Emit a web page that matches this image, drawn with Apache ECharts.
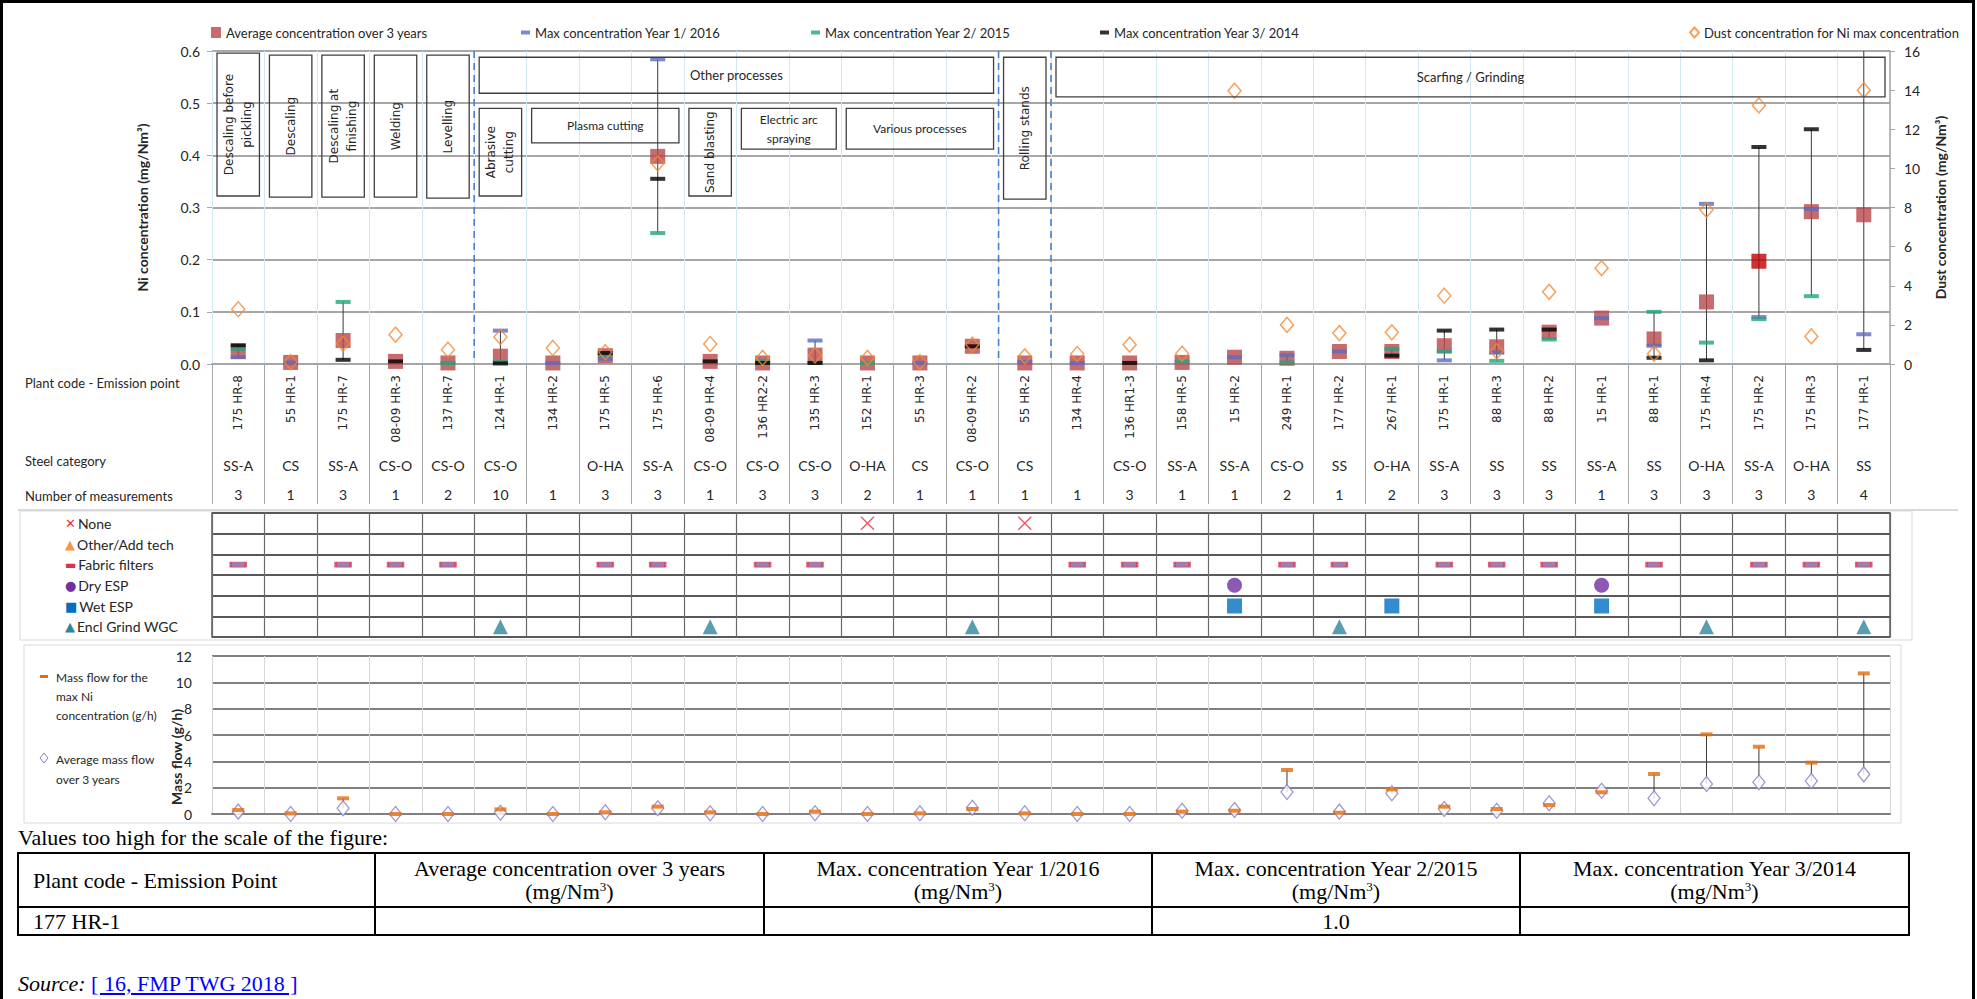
<!DOCTYPE html>
<html>
<head>
<meta charset="utf-8">
<script src="https://cdn.jsdelivr.net/npm/echarts/dist/echarts.min.js"></script>
<style>
  html, body { margin: 0; padding: 0; background: #fff; overflow: hidden; }
  #frame { position: absolute; left: 0; top: 0; width: 1969px; height: 1100px; border: 3px solid #000; border-bottom: none; pointer-events: none; z-index: 5; }
  #chart { position: absolute; left: 0; top: 0; width: 1977px; height: 830px; }
  .serif { font-family: 'Liberation Serif', 'Times New Roman', serif; font-size: 22px; color: #000; }
  #note { position: absolute; left: 18px; top: 825px; line-height: 26px; z-index: 3; }
  #tooHigh { position: absolute; left: 17px; top: 852px; border-collapse: collapse; z-index: 3; }
  #tooHigh td { border: 2px solid #000; padding: 0; line-height: 23px; text-align: center; vertical-align: middle; }
  #tooHigh td.first { text-align: left; padding-left: 14px; }
  #tooHigh tr.head td { height: 52px; }
  #tooHigh tr.body td { height: 26px; }
  #tooHigh sup { font-size: 13px; line-height: 0; }
  #source { position: absolute; left: 18px; top: 971px; line-height: 26px; z-index: 3; }
  #source a { color: #0000ff; text-decoration: underline; }
</style>
</head>
<body>
<div id="chart"></div>
<div id="note" class="serif">Values too high for the scale of the figure:</div>
<table id="tooHigh" class="serif">
  <colgroup><col style="width:357px"><col style="width:389px"><col style="width:388px"><col style="width:368px"><col style="width:389px"></colgroup>
  <tr class="head">
    <td class="first">Plant code - Emission Point</td>
    <td>Average concentration over 3 years<br>(mg/Nm<sup>3</sup>)</td>
    <td>Max. concentration Year 1/2016<br>(mg/Nm<sup>3</sup>)</td>
    <td>Max. concentration Year 2/2015<br>(mg/Nm<sup>3</sup>)</td>
    <td>Max. concentration Year 3/2014<br>(mg/Nm<sup>3</sup>)</td>
  </tr>
  <tr class="body">
    <td class="first">177 HR-1</td><td></td><td></td><td>1.0</td><td></td>
  </tr>
</table>
<div id="source" class="serif"><i>Source:</i> <a>[ 16, FMP TWG 2018 ]</a></div>
<div id="frame"></div>
<script>
// categories (plant code - emission point)
const plantCodes = ['175 HR-8', '55 HR-1', '175 HR-7', '08-09 HR-3', '137 HR-7', '124 HR-1', '134 HR-2', '175 HR-5',
  '175 HR-6', '08-09 HR-4', '136 HR2-2', '135 HR-3', '152 HR-1', '55 HR-3', '08-09 HR-2', '55 HR-2', '134 HR-4',
  '136 HR1-3', '158 HR-5', '15 HR-2', '249 HR-1', '177 HR-2', '267 HR-1', '175 HR-1', '88 HR-3', '88 HR-2',
  '15 HR-1', '88 HR-1', '175 HR-4', '175 HR-2', '175 HR-3', '177 HR-1']
const steelCategories = ['SS-A', 'CS', 'SS-A', 'CS-O', 'CS-O', 'CS-O', '', 'O-HA', 'SS-A', 'CS-O', 'CS-O', 'CS-O',
  'O-HA', 'CS', 'CS-O', 'CS', '', 'CS-O', 'SS-A', 'SS-A', 'CS-O', 'SS', 'O-HA', 'SS-A', 'SS', 'SS', 'SS-A', 'SS',
  'O-HA', 'SS-A', 'O-HA', 'SS']
const measurementCounts = ['3', '1', '3', '1', '2', '10', '1', '3', '3', '1', '3', '3', '2', '1', '1', '1', '1',
  '3', '1', '1', '2', '1', '2', '3', '3', '3', '1', '3', '3', '3', '3', '4']

// Ni concentration (mg/Nm3)
const avgConc = [0.024, 0.003, 0.045, 0.005, 0.002, 0.015, 0.002, 0.016, 0.398, 0.005, 0.002, 0.017, 0.002, 0.002,
  0.034, 0.002, 0.002, 0.002, 0.003, 0.013, 0.011, 0.024, 0.024, 0.035, 0.033, 0.061, 0.088, 0.048, 0.119, 0.197,
  0.292, 0.286]
const maxYear1 = [0.013, 0.003, null, null, null, 0.064, 0.002, 0.010, 0.584, null, null, 0.045, null, 0.002, null,
  0.004, 0.002, null, null, 0.013, 0.017, 0.024, null, 0.007, 0.022, null, 0.088, 0.035, 0.307, 0.090, 0.297, 0.057]
const maxYear2 = [0.029, null, 0.119, null, 0.002, 0.004, null, 0.018, 0.251, null, 0.006, 0.002, 0.002, null, null,
  null, null, null, 0.004, null, 0.003, null, 0.029, 0.024, 0.006, 0.047, null, 0.100, 0.041, 0.086, 0.130, 1.0]
const maxYear3 = [0.036, null, 0.008, 0.005, null, 0.001, null, 0.021, 0.355, 0.005, 0.002, 0.002, null, null, 0.034,
  null, null, 0.002, null, null, null, null, 0.016, 0.064, 0.066, 0.066, null, 0.012, 0.007, 0.416, 0.450, 0.027]
// dust concentration (mg/Nm3), right axis
const dustConc = [2.8, 0.1, 1.04, 1.5, 0.73, 1.38, 0.82, 0.6, 10.26, 1.02, 0.31, 0.44, 0.31, 0.1, 0.99, 0.39, 0.51,
  0.99, 0.53, 13.97, 2.0, 1.58, 1.62, 3.49, 0.65, 3.69, 4.9, 0.53, 7.88, 13.22, 1.41, 14.0]

// techniques (1 = used)
const techRows = ['None', 'Other/Add tech', 'Fabric filters', 'Dry ESP', 'Wet ESP', 'Encl Grind WGC']
const techNone = [0,0,0,0,0,0,0,0,0,0, 0,0,1,0,0,1,0,0,0,0, 0,0,0,0,0,0,0,0,0,0, 0,0]
const techOther = [0,0,0,0,0,0,0,0,0,0, 0,0,0,0,0,0,0,0,0,0, 0,0,0,0,0,0,0,0,0,0, 0,0]
const techFabric = [1,0,1,1,1,0,0,1,1,0, 1,1,0,0,0,0,1,1,1,0, 1,1,0,1,1,1,0,1,0,1, 1,1]
const techDryEsp = [0,0,0,0,0,0,0,0,0,0, 0,0,0,0,0,0,0,0,0,1, 0,0,0,0,0,0,1,0,0,0, 0,0]
const techWetEsp = [0,0,0,0,0,0,0,0,0,0, 0,0,0,0,0,0,0,0,0,1, 0,0,1,0,0,0,1,0,0,0, 0,0]
const techEnclGrind = [0,0,0,0,0,1,0,0,0,1, 0,0,0,0,1,0,0,0,0,0, 0,1,0,0,0,0,0,0,1,0, 0,1]

// mass flow (g/h)
const massFlowMax = [0.3, 0.05, 1.19, 0, 0, 0.35, 0, 0.13, 0.56, 0.13, 0, 0.18, 0, 0.05, 0.38, 0.05, 0, 0, 0.18, 0.25,
  3.34, 0.1, 1.87, 0.56, 0.38, 0.68, 1.65, 3.04, 6.05, 5.11, 3.9, 10.68]
const massFlowAvg = [0.18, 0, 0.43, 0, 0, 0.1, 0, 0.13, 0.43, 0.05, 0, 0.05, 0, 0.05, 0.48, 0.05, 0, 0, 0.25, 0.3,
  1.67, 0.18, 1.57, 0.38, 0.25, 0.81, 1.77, 1.19, 2.28, 2.41, 2.5, 3.01]

// process annotation boxes (category range + extent on the Ni axis)
const processBoxes = [
  { label: 'Descaling before\npickling', from: 0, to: 0, top: 0.596, bottom: 0.322, vertical: true },
  { label: 'Descaling', from: 1, to: 1, top: 0.592, bottom: 0.320, vertical: true },
  { label: 'Descaling at\nfinishing', from: 2, to: 2, top: 0.592, bottom: 0.320, vertical: true },
  { label: 'Welding', from: 3, to: 3, top: 0.592, bottom: 0.320, vertical: true },
  { label: 'Levelling', from: 4, to: 4, top: 0.592, bottom: 0.318, vertical: true },
  { label: 'Other processes', from: 5, to: 14, top: 0.588, bottom: 0.519, size: 13 },
  { label: 'Abrasive\ncutting', from: 5, to: 5, top: 0.49, bottom: 0.322, vertical: true },
  { label: 'Plasma cutting', from: 6, to: 8, top: 0.49, bottom: 0.424, size: 12 },
  { label: 'Sand blasting', from: 9, to: 9, top: 0.49, bottom: 0.322, vertical: true },
  { label: 'Electric arc\nspraying', from: 10, to: 11, top: 0.49, bottom: 0.412, size: 12 },
  { label: 'Various processes', from: 12, to: 14, top: 0.49, bottom: 0.412, size: 12 },
  { label: 'Rolling stands', from: 15, to: 15, top: 0.588, bottom: 0.316, vertical: true },
  { label: 'Scarfing / Grinding', from: 16, to: 31, top: 0.588, bottom: 0.512, size: 13 }
]
// group separators: after this many categories
const separatorsAfter = [5, 15, 16]

const names = {
  avg: 'Average concentration over 3 years',
  y1: 'Max concentration Year 1/ 2016',
  y2: 'Max concentration Year 2/ 2015',
  y3: 'Max concentration Year 3/ 2014',
  dust: 'Dust concentration for Ni max concentration'
}

const pts = (arr) => arr.map((v, i) => (v == null ? null : [i, v])).filter(Boolean)

const errData = plantCodes.map((_, i) => {
  const vals = [maxYear1[i], maxYear2[i], maxYear3[i]].filter(v => v != null)
  if (vals.length < 2) return null
  return [i, Math.min(...vals), Math.max(...vals)]
}).filter(Boolean)

const massErr = plantCodes.map((_, i) => [i, massFlowAvg[i], massFlowMax[i]])

const chart = echarts.init(document.getElementById('chart'), null, { renderer: 'svg' })

const txt = '#262626'
const legendBase = { top: 21, icon: 'rect', textStyle: { fontFamily: 'Lato', fontSize: 13, color: txt } }

const techSymbols = [
  { symbol: 'path://M0,0L10,10M10,0L0,10', size: 13, style: { color: 'none', borderColor: '#E8303A', borderWidth: 1.4 } },
  { symbol: 'triangle', size: 14, style: { color: '#F79646' } },
  { symbol: 'rect', size: [15, 5], style: { color: '#7D62A8', borderColor: '#E2384F', borderWidth: 1.5 } },
  { symbol: 'circle', size: 15, style: { color: '#7030A0' } },
  { symbol: 'rect', size: 15, style: { color: '#0070C0' } },
  { symbol: 'triangle', size: 15, style: { color: '#31849B' } }
]
const techFlags = [techNone, techOther, techFabric, techDryEsp, techWetEsp, techEnclGrind]
const techGlyph = ['✕', '▲', '▬', '●', '■', '▲']
const techGlyphColor = ['#E8303A', '#F79646', '#D9344B', '#7030A0', '#0070C0', '#31849B']
const techRich = { t: { fontFamily: 'Lato', fontSize: 14, color: txt, padding: [0, 0, 0, 2] } }
techGlyphColor.forEach((c, r) => {
  techRich['i' + r] = { fontFamily: 'DejaVu Sans', fontSize: r === 2 ? 12 : 13, color: c }
})

const series = [
  {
    type: 'custom', name: 'errbars', xAxisIndex: 0, yAxisIndex: 0, silent: true, z: 1,
    data: errData,
    renderItem (params, api) {
      const p1 = api.coord([api.value(0), api.value(1)])
      const p2 = api.coord([api.value(0), api.value(2)])
      const top = params.coordSys.y
      return { type: 'line', shape: { x1: p1[0], y1: p1[1], x2: p2[0], y2: Math.max(p2[1], top) }, style: { stroke: '#3a3a3a', lineWidth: 1 } }
    }
  },
  {
    type: 'scatter', name: names.avg, xAxisIndex: 0, yAxisIndex: 0, z: 2,
    symbol: 'rect', symbolSize: 15, itemStyle: { color: '#B8474A' },
    data: avgConc.map((v, i) => (i === 29 ? { value: [i, v], itemStyle: { color: '#C00000' } } : [i, v]))
  },
  { type: 'scatter', name: names.y1, xAxisIndex: 0, yAxisIndex: 0, z: 3, symbol: 'rect', symbolSize: [15, 4], itemStyle: { color: '#5C6BC0' }, data: pts(maxYear1) },
  { type: 'scatter', name: names.y2, xAxisIndex: 0, yAxisIndex: 0, z: 3, symbol: 'rect', symbolSize: [15, 4], itemStyle: { color: '#1FA67E' }, data: pts(maxYear2) },
  { type: 'scatter', name: names.y3, xAxisIndex: 0, yAxisIndex: 0, z: 3, symbol: 'rect', symbolSize: [15, 4], itemStyle: { color: '#000' }, data: pts(maxYear3) },
  {
    type: 'scatter', name: names.dust, xAxisIndex: 0, yAxisIndex: 1, z: 4,
    symbol: 'diamond', symbolSize: [13, 15],
    itemStyle: { color: 'rgba(255,255,255,0)', borderColor: '#F28A35', borderWidth: 1.5 },
    data: pts(dustConc)
  },
  {
    type: 'custom', name: 'boxes', xAxisIndex: 0, yAxisIndex: 0, silent: true, z: 5,
    data: processBoxes.map((b, k) => [b.from, b.top, k]),
    renderItem (params, api) {
      const b = processBoxes[api.value(2)]
      const band = api.size([1, 0])[0]
      const x0 = api.coord([b.from, 0])[0] - band / 2 + 5
      const x1 = api.coord([b.to, 0])[0] + band / 2 - 5
      const y0 = api.coord([b.from, b.top])[1]
      const y1 = api.coord([b.from, b.bottom])[1]
      const font = b.vertical ? '12px "DejaVu Sans"' : (b.size || 13) + 'px Lato'
      return {
        type: 'group',
        children: [
          { type: 'rect', shape: { x: x0, y: y0, width: x1 - x0, height: y1 - y0 }, style: { fill: 'none', stroke: '#3f3f3f', lineWidth: 1.3 } },
          {
            type: 'text', x: (x0 + x1) / 2, y: (y0 + y1) / 2, rotation: b.vertical ? Math.PI / 2 : 0,
            style: { text: b.label, font: font, fill: txt, align: 'center', verticalAlign: 'middle', lineHeight: b.vertical ? 18 : 19 }
          }
        ]
      }
    }
  },
  {
    type: 'custom', name: 'separators', xAxisIndex: 0, yAxisIndex: 0, silent: true, z: 1,
    data: separatorsAfter.map(n => [n - 1, 0]),
    renderItem (params, api) {
      const x = api.coord([api.value(0), 0])[0] + api.size([1, 0])[0] / 2
      const cs = params.coordSys
      return { type: 'line', shape: { x1: x, y1: cs.y, x2: x, y2: cs.y + cs.height }, style: { stroke: '#4A7EC7', lineWidth: 1.6, lineDash: [7, 5] } }
    }
  }
]

techFlags.forEach((flags, r) => {
  const s = techSymbols[r]
  series.push({
    type: 'scatter', name: techRows[r], xAxisIndex: 3, yAxisIndex: 2, z: 3,
    symbol: s.symbol, symbolSize: s.size, itemStyle: s.style,
    data: flags.map((f, i) => (f ? [i, r] : null)).filter(Boolean)
  })
})

series.push(
  {
    type: 'custom', name: 'massErr', xAxisIndex: 4, yAxisIndex: 3, silent: true, z: 1,
    data: massErr,
    renderItem (params, api) {
      const p1 = api.coord([api.value(0), api.value(1)])
      const p2 = api.coord([api.value(0), api.value(2)])
      return { type: 'line', shape: { x1: p1[0], y1: p1[1], x2: p2[0], y2: p2[1] }, style: { stroke: '#3a3a3a', lineWidth: 1 } }
    }
  },
  {
    type: 'scatter', name: 'Average mass flow over 3 years', xAxisIndex: 4, yAxisIndex: 3, z: 2,
    symbol: 'diamond', symbolSize: [12, 15],
    itemStyle: { color: '#fff', borderColor: '#8B7CC8', borderWidth: 1.3 },
    data: pts(massFlowAvg)
  },
  {
    type: 'scatter', name: 'Mass flow for the max Ni concentration (g/h)', xAxisIndex: 4, yAxisIndex: 3, z: 3,
    symbol: 'rect', symbolSize: [12, 4], itemStyle: { color: '#E46C0A' },
    data: pts(massFlowMax)
  }
)

const gridLine = '#A6A6A6'
const option = {
  animation: false,
  backgroundColor: '#fff',
  textStyle: { fontFamily: 'Lato' },
  legend: [
    Object.assign({}, legendBase, { left: 206, data: [names.avg], itemWidth: 10, itemHeight: 11 }),
    Object.assign({}, legendBase, { left: 516, data: [names.y1], itemWidth: 9, itemHeight: 4 }),
    Object.assign({}, legendBase, { left: 806, data: [names.y2], itemWidth: 9, itemHeight: 4 }),
    Object.assign({}, legendBase, { left: 1095, data: [names.y3], itemWidth: 9, itemHeight: 4 }),
    Object.assign({}, legendBase, { left: 1684, data: [names.dust], icon: 'diamond', itemWidth: 9, itemHeight: 10 })
  ],
  grid: [
    { left: 212, right: 87, top: 51, height: 313, outerBoundsMode: 'none' },
    { left: 212, right: 87, top: 513, height: 124, show: true, borderColor: '#595959', borderWidth: 1.5, outerBoundsMode: 'none' },
    { left: 212, right: 87, top: 656, height: 158, outerBoundsMode: 'none' }
  ],
  xAxis: [
    {
      type: 'category', gridIndex: 0, data: plantCodes,
      axisLine: { lineStyle: { color: gridLine, width: 2 } },
      axisTick: { show: true, interval: 0, length: 140, lineStyle: { color: gridLine, width: 1 } },
      axisLabel: { interval: 0, rotate: 90, margin: 11, fontFamily: 'DejaVu Sans', fontSize: 12, color: txt },
      splitLine: { show: true, interval: 0, lineStyle: { color: '#D2E7F4', width: 1 } }
    },
    {
      type: 'category', gridIndex: 0, position: 'bottom', offset: 86, data: steelCategories,
      axisLine: { show: false }, axisTick: { show: false }, splitLine: { show: false },
      axisLabel: { interval: 0, margin: 8, fontSize: 14, color: txt }
    },
    {
      type: 'category', gridIndex: 0, position: 'bottom', offset: 115, data: measurementCounts,
      axisLine: { show: false }, axisTick: { show: false }, splitLine: { show: false },
      axisLabel: { interval: 0, margin: 8, fontSize: 14, color: txt }
    },
    {
      type: 'category', gridIndex: 1, data: plantCodes,
      axisLine: { show: false }, axisTick: { show: false }, axisLabel: { show: false },
      splitLine: { show: true, interval: 0, lineStyle: { color: '#6b6b6b', width: 1.2 } }
    },
    {
      type: 'category', gridIndex: 2, data: plantCodes,
      axisLine: { lineStyle: { color: '#7F7F7F', width: 2 } }, axisTick: { show: false }, axisLabel: { show: false },
      splitLine: { show: true, interval: 0, lineStyle: { color: '#D6D6D6', width: 1 } }
    }
  ],
  yAxis: [
    {
      type: 'value', gridIndex: 0, min: 0, max: 0.6, interval: 0.1,
      name: 'Ni concentration (mg/Nm³)', nameLocation: 'middle', nameGap: 63, nameRotate: 90,
      nameTextStyle: { fontWeight: 'bold', fontSize: 14, color: txt },
      axisLine: { show: false },
      axisTick: { show: true, length: 5, lineStyle: { color: gridLine } },
      axisLabel: { formatter: v => v.toFixed(1), fontSize: 14, margin: 12, color: txt },
      splitLine: { lineStyle: { color: gridLine, width: 2 } }
    },
    {
      type: 'value', gridIndex: 0, position: 'right', min: 0, max: 16, interval: 2,
      name: 'Dust concentration (mg/Nm³)', nameLocation: 'middle', nameGap: 43, nameRotate: 90,
      nameTextStyle: { fontWeight: 'bold', fontSize: 14, color: txt },
      axisLine: { show: true, lineStyle: { color: gridLine, width: 1.5 } },
      axisTick: { show: true, length: 5, lineStyle: { color: gridLine } },
      axisLabel: { fontSize: 14, margin: 14, color: txt },
      splitLine: { show: false }
    },
    {
      type: 'category', gridIndex: 1, data: techRows, inverse: true,
      axisLine: { show: false }, axisTick: { show: false },
      splitLine: { show: true, lineStyle: { color: '#595959', width: 2 } },
      axisLabel: {
        align: 'left', margin: 147,
        formatter: (v, idx) => '{i' + idx + '|' + techGlyph[idx] + '}{t|' + v + '}',
        rich: techRich
      }
    },
    {
      type: 'value', gridIndex: 2, min: 0, max: 12, interval: 2,
      axisLine: { show: false }, axisTick: { show: false },
      axisLabel: { fontSize: 14, margin: 20, color: txt },
      splitLine: { lineStyle: { color: '#808080', width: 2 } }
    }
  ],
  graphic: [
    { type: 'text', left: 25, top: 376, style: { text: 'Plant code - Emission point', font: '13px Lato', fill: txt } },
    { type: 'text', left: 25, top: 454, style: { text: 'Steel category', font: '13px Lato', fill: txt } },
    { type: 'text', left: 25, top: 489, style: { text: 'Number of measurements', font: '13px Lato', fill: txt } },
    { type: 'line', shape: { x1: 18, y1: 510, x2: 1958, y2: 510 }, style: { stroke: '#D9D9D9', lineWidth: 2 } },
    { type: 'rect', shape: { x: 20, y: 511, width: 1892, height: 129 }, style: { fill: 'none', stroke: '#D9D9D9', lineWidth: 1 } },
    { type: 'rect', shape: { x: 24, y: 645, width: 1877, height: 178 }, style: { fill: 'none', stroke: '#D9D9D9', lineWidth: 1 } },
    { type: 'rect', shape: { x: 40, y: 675, width: 8, height: 3 }, style: { fill: '#E46C0A' } },
    { type: 'text', left: 56, top: 668, style: { text: 'Mass flow for the\nmax Ni\nconcentration (g/h)', font: '12px Lato', fill: txt, lineHeight: 19 } },
    { type: 'polygon', shape: { points: [[44, 753], [48, 758], [44, 763], [40, 758]] }, style: { fill: 'none', stroke: '#8B7CC8', lineWidth: 1 } },
    { type: 'text', left: 56, top: 749, style: { text: 'Average mass flow\nover 3 years', font: '12px Lato', fill: txt, lineHeight: 20 } },
    { type: 'text', x: 176, y: 757, rotation: Math.PI / 2, style: { text: 'Mass flow (g/h)', font: 'bold 14px Lato', fill: txt, align: 'center', verticalAlign: 'middle' } }
  ],
  series: series
}

chart.setOption(option)
</script>
</body>
</html>
